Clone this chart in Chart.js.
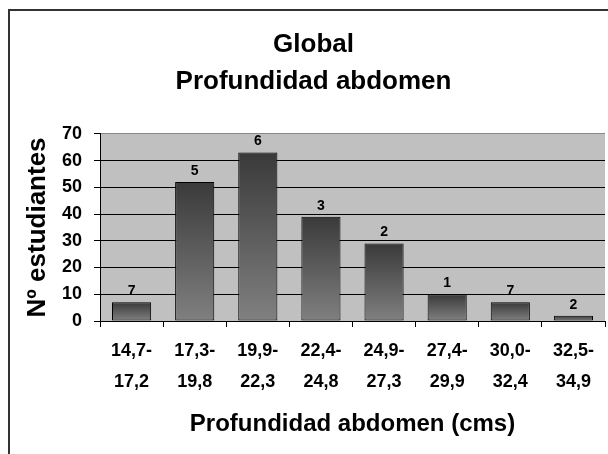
<!DOCTYPE html>
<html>
<head>
<meta charset="utf-8">
<script src="https://cdn.jsdelivr.net/npm/chart.js@4.4.1/dist/chart.umd.min.js"></script>
<style>
  html, body { margin: 0; padding: 0; background: #fff; }
  canvas { display: block; }
</style>
</head>
<body>
<canvas id="chart" width="608" height="454"></canvas>
<script>
// rangos de profundidad de abdomen (cms)
const categories = [
  ['14,7-', '17,2'], ['17,3-', '19,8'], ['19,9-', '22,3'], ['22,4-', '24,8'],
  ['24,9-', '27,3'], ['27,4-', '29,9'], ['30,0-', '32,4'], ['32,5-', '34,9']
];
const students = [7, 52, 63, 39, 29, 10, 7, 2];
// etiquetas tal como aparecen sobre las barras
const barLabels = ['7', '5', '6', '3', '2', '1', '7', '2'];
const yTicks = [0, 10, 20, 30, 40, 50, 60, 70];

const SANS = '"Liberation Sans", Arial, sans-serif';

const frame = {
  id: 'frame',
  beforeDraw(chart) {
    const { ctx, chartArea: a } = chart;
    ctx.save();
    ctx.fillStyle = '#fff';
    ctx.fillRect(0, 0, chart.width, chart.height);
    ctx.strokeStyle = '#333';
    ctx.lineWidth = 2;
    ctx.strokeRect(9, 10, 640, 480);
    ctx.fillStyle = '#c0c0c0';
    ctx.fillRect(a.left, a.top, a.right - a.left, a.bottom - a.top);
    ctx.restore();
  }
};

const valueLabels = {
  id: 'valueLabels',
  afterDatasetsDraw(chart) {
    const ctx = chart.ctx;
    const meta = chart.getDatasetMeta(0);
    ctx.save();
    ctx.fillStyle = '#000';
    ctx.font = 'bold 14px ' + SANS;
    ctx.textAlign = 'center';
    ctx.textBaseline = 'middle';
    meta.data.forEach((bar, i) => {
      ctx.fillText(barLabels[i], bar.x, bar.y - 11);
    });
    ctx.restore();
  }
};

new Chart(document.getElementById('chart'), {
  type: 'bar',
  data: {
    labels: categories,
    datasets: [{
      data: students,
      backgroundColor(c) {
        const y = c.chart.scales.y;
        if (!y || c.type !== 'data') return '#606060';
        const top = y.getPixelForValue(c.raw);
        const base = y.getPixelForValue(0);
        if (!isFinite(top) || !isFinite(base) || top === base) return '#606060';
        const g = c.chart.ctx.createLinearGradient(0, top, 0, base);
        g.addColorStop(0, '#3a3a3a');
        g.addColorStop(1, '#808080');
        return g;
      },
      borderColor: '#000',
      borderWidth: 1,
      borderSkipped: false,
      barPercentage: 0.62,
      categoryPercentage: 1
    }]
  },
  options: {
    responsive: false,
    animation: false,
    devicePixelRatio: 1,
    layout: { padding: { left: 22, right: 3, top: 0, bottom: 15 } },
    plugins: {
      legend: { display: false },
      tooltip: { enabled: false },
      title: {
        display: true,
        text: ['Global', 'Profundidad abdomen'],
        color: '#000',
        font: { family: SANS, size: 26, weight: 'bold', lineHeight: 1.42 },
        padding: { top: 26, bottom: 34 }
      }
    },
    scales: {
      x: {
        grid: { drawOnChartArea: false, color: '#000', tickLength: 6, offset: true },
        border: { color: '#000', width: 1 },
        ticks: {
          color: '#000',
          maxRotation: 0,
          autoSkip: false,
          padding: 9,
          font: { family: SANS, size: 18, weight: 'bold', lineHeight: 1.72 }
        },
        title: {
          display: true,
          text: 'Profundidad abdomen (cms)',
          color: '#000',
          font: { family: SANS, size: 24, weight: 'bold', lineHeight: 1.2 },
          padding: 0
        },
        afterFit(s) { s.height = 118; }
      },
      y: {
        min: 0,
        max: 70,
        afterBuildTicks(s) { s.ticks = yTicks.map(v => ({ value: v })); },
        grid: {
          color: c => (c.tick && c.tick.value === 70 ? '#888' : '#000'),
          tickColor: '#000',
          tickLength: 6
        },
        border: { color: '#000', width: 1 },
        ticks: {
          color: '#000',
          padding: 12,
          font: { family: SANS, size: 18, weight: 'bold' }
        },
        title: {
          display: true,
          text: 'Nº estudiantes',
          color: '#000',
          font: { family: SANS, size: 26, weight: 'bold', lineHeight: 1.2 },
          padding: 0
        },
        afterFit(s) { s.width = 78; }
      }
    }
  },
  plugins: [frame, valueLabels]
});
</script>
</body>
</html>
